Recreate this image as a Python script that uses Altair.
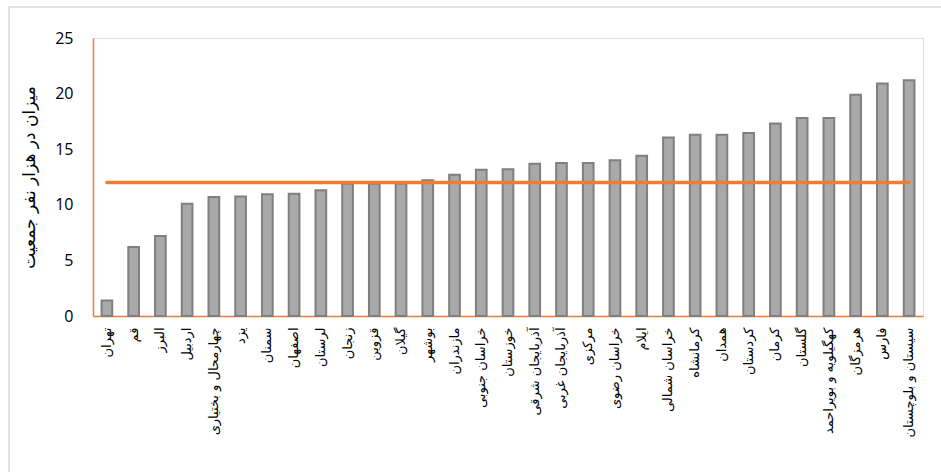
import altair as alt
import pandas as pd

# Provinces, sorted from lowest to highest rate
provinces = [
    "تهران", "قم", "البرز", "اردبیل", "چهارمحال و بختیاری", "یزد", "سمنان",
    "اصفهان", "لرستان", "زنجان", "قزوین", "گیلان", "بوشهر", "مازندران",
    "خراسان جنوبی", "خوزستان", "آذربایجان شرقی", "آذربایجان غربی", "مرکزی",
    "خراسان رضوی", "ایلام", "خراسان شمالی", "کرمانشاه", "همدان", "کردستان",
    "کرمان", "گلستان", "کهگیلویه و بویراحمد", "هرمزگان", "فارس",
    "سیستان و بلوچستان",
]
rates = [
    1.4, 6.2, 7.2, 10.1, 10.7, 10.75, 10.95, 11.0, 11.3, 11.9, 11.9, 11.9,
    12.2, 12.7, 13.15, 13.2, 13.7, 13.75, 13.75, 14.0, 14.4, 16.05, 16.3,
    16.3, 16.45, 17.3, 17.8, 17.8, 19.9, 20.9, 21.2,
]
national_average = 12.0
y_ticks = [0, 5, 10, 15, 20, 25]

df = pd.DataFrame({
    "province": provinces,
    "rate": rates,
    "average": [national_average] * len(provinces),
})

ORANGE = "#ed7d31"

x_enc = alt.X(
    "province:N",
    sort=provinces,
    title=None,
    scale=alt.Scale(paddingInner=0.6, paddingOuter=0.32),
    axis=alt.Axis(
        labelAngle=-90,
        labelFont="DejaVu Sans",
        labelFontSize=13,
        labelColor="#000000",
        labelPadding=11,
        domainColor=ORANGE,
        domainWidth=1.5,
        ticks=False,
        labelOverlap=False,
    ),
)

bars = alt.Chart(df).mark_bar(
    color="#a9a9a9", stroke="#7f7f7f", strokeWidth=2
).encode(
    x=x_enc,
    y=alt.Y(
        "rate:Q",
        scale=alt.Scale(domain=[0, 25], nice=False),
        title="میزان در هزار نفر جمعیت",
        axis=alt.Axis(
            values=y_ticks,
            grid=False,
            ticks=False,
            domainColor=ORANGE,
            domainWidth=1.5,
            labelFont="Open Sans",
            labelFontSize=16,
            labelColor="#000000",
            labelPadding=20,
            titleFont="DejaVu Sans",
            titleFontSize=17,
            titleFontWeight="normal",
            titleColor="#000000",
            titlePadding=16,
        ),
    ),
)

avg_line = alt.Chart(df).mark_line(
    color=ORANGE, strokeWidth=3.5, strokeCap="round"
).encode(
    x=alt.X("province:N", sort=provinces),
    y=alt.Y("average:Q"),
)

frame = alt.Chart(pd.DataFrame({"k": [0]})).mark_rect(
    fill="transparent", stroke="#d9d9d9", strokeWidth=1.5
).encode(
    x=alt.value(-84), x2=alt.value(1000),
    y=alt.value(-31), y2=alt.value(500),
)

chart = alt.layer(frame, bars, avg_line).properties(
    width=830,
    height=278,
    autosize=alt.AutoSizeParams(type="none"),
    padding={"left": 93, "top": 38, "right": 18, "bottom": 156},
).configure_view(stroke=None).configure(background="white")

chart.save("out.html", embed_options={"renderer": "svg", "actions": False})
